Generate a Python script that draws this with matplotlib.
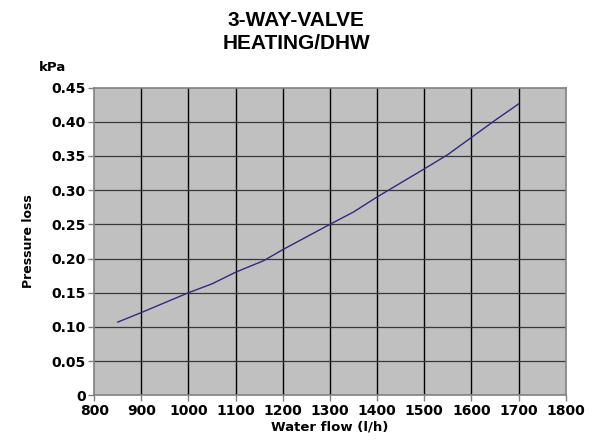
import matplotlib
matplotlib.use("Agg")
import matplotlib.pyplot as plt

flow = [850, 900, 1000, 1050, 1100, 1160, 1200, 1300, 1350, 1400, 1500, 1550, 1600, 1650, 1700]
loss = [0.107, 0.121, 0.150, 0.163, 0.180, 0.197, 0.213, 0.250, 0.268, 0.290, 0.331, 0.352, 0.377, 0.402, 0.426]

x_ticks = list(range(800, 1801, 100))
y_ticks = [0, 0.05, 0.10, 0.15, 0.20, 0.25, 0.30, 0.35, 0.40, 0.45]
y_labels = ["0", "0.05", "0.10", "0.15", "0.20", "0.25", "0.30", "0.35", "0.40", "0.45"]

plt.rcParams["font.family"] = ["DejaVu Sans"]
plt.rcParams["font.weight"] = "bold"

fig = plt.figure(figsize=(5.92, 4.48), dpi=100)
ax = fig.add_axes([0.159, 0.1176, 0.7966, 0.687])
ax.set_facecolor("#c0c0c0")

ax.plot(flow, loss, color="#2e2a80", lw=1.0, zorder=3)

ax.set_xlim(800, 1800)
ax.set_ylim(0, 0.45)
ax.set_xticks(x_ticks)
ax.set_xticklabels([str(v) for v in x_ticks], fontsize=10, fontweight="bold")
ax.set_yticks(y_ticks)
ax.set_yticklabels(y_labels, fontsize=10, fontweight="bold")

for v in x_ticks[1:-1]:
    ax.axvline(v, color="black", lw=1.0, zorder=1)
for v in y_ticks[1:-1]:
    ax.axhline(v, color="#383838", lw=0.9, zorder=1)

for s in ax.spines.values():
    s.set_color("#808080")
    s.set_linewidth(1.2)
ax.tick_params(length=4, width=1, color="#808080", pad=2)

ax.set_xlabel("Water flow (l/h)", fontsize=9.5, fontweight="bold", labelpad=2)
ax.set_ylabel("Pressure loss", fontsize=9, fontweight="bold", labelpad=12)

fig.text(0.5, 0.975, "3-WAY-VALVE\nHEATING/DHW", ha="center", va="top",
         fontsize=15, fontweight="bold", linespacing=1.25,
         family=["Liberation Sans", "DejaVu Sans"])
fig.text(0.088, 0.835, "kPa", ha="center", va="bottom", fontsize=9.5, fontweight="bold")

fig.savefig("out.png", dpi=100)
